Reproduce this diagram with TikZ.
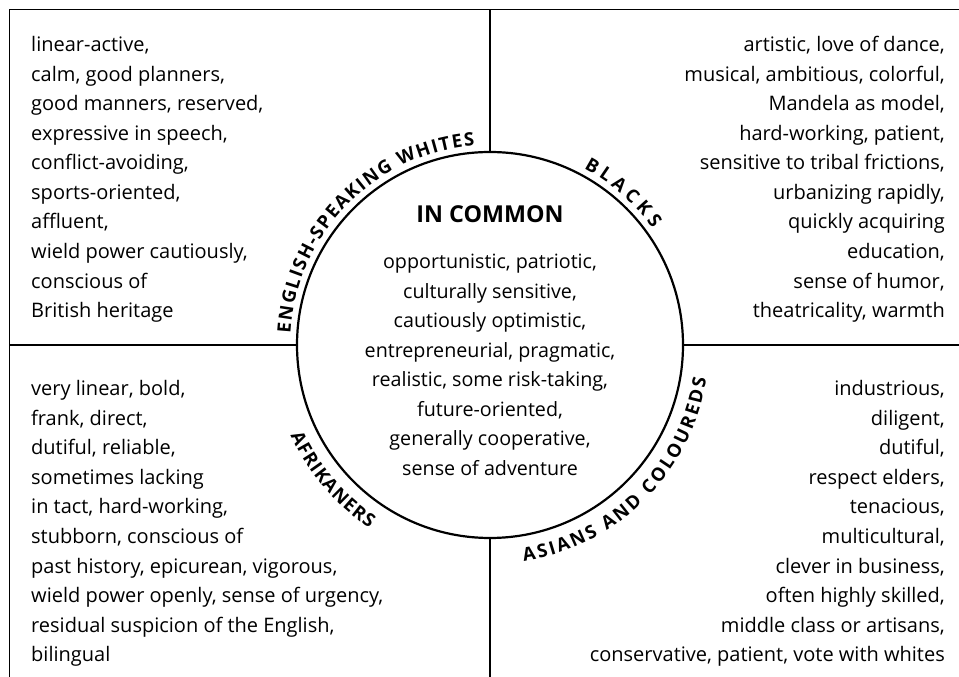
\documentclass[tikz,border=0pt]{standalone}
\usepackage{fontspec}
\setmainfont{Open Sans}
\usetikzlibrary{decorations.text}
\newcommand\lblfont{\bfseries\fontsize{18.5}{18.5}\selectfont}
\tikzset{
  body/.style={font=\fontsize{20}{24}\selectfont, inner sep=0pt},
  cbody/.style={font=\fontsize{19.7}{24}\selectfont, inner sep=0pt, anchor=base},
  divider/.style={line width=1.7pt},
  frame/.style={line width=1pt},
}
\begin{document}
\begin{tikzpicture}[x=1pt,y=1pt]
\useasboundingbox (0,0) rectangle (959,677);
\coordinate (O) at (490,332);
\node[circle, draw, line width=2.2pt, minimum size=386pt, inner sep=0pt] (C) at (O) {};
\coordinate (TL) at (9,667);
\coordinate (BL) at (9,-5);
\coordinate (TR) at (965,667);
\coordinate (VT) at (490,667);
\coordinate (VB) at (490,-5);
\coordinate (HL) at (9,332);
\coordinate (HR) at (965,332);
\draw[frame] (BL) -- (TL) -- (TR);
\draw[divider] (VT) -- (C.north);
\draw[divider] (C.south) -- (VB);
\draw[divider] (HL) -- (C.west);
\draw[divider] (C.east) -- (HR);

% top-left
\foreach \t [count=\i] in {{linear-active,},{calm, good planners,},{good manners, reserved,},{expressive in speech,},{conflict-avoiding,},{sports-oriented,},{affluent,},{wield power cautiously,},{conscious of},{British heritage}}
  \node[body, anchor=base west] (tl\i) at (31,{625.3-29.55*(\i-1)}) {\t};
% top-right
\foreach \t [count=\i] in {{artistic, love of dance,},{musical, ambitious, colorful,},{Mandela as model,},{hard-working, patient,},{sensitive to tribal frictions,},{urbanizing rapidly,},{quickly acquiring},{education,},{sense of humor,},{theatricality, warmth}}
  \node[body, anchor=base east] (tr\i) at (945,{625.3-29.55*(\i-1)}) {\t};
% bottom-left
\foreach \t [count=\i] in {{very linear, bold,},{frank, direct,},{dutiful, reliable,},{sometimes lacking},{in tact, hard-working,},{stubborn, conscious of},{past history, epicurean, vigorous,},{wield power openly, sense of urgency,},{residual suspicion of the English,},{bilingual}}
  \node[body, anchor=base west] (bl\i) at (31,{281.2-29.55*(\i-1)}) {\t};
% bottom-right
\foreach \t [count=\i] in {{industrious,},{diligent,},{dutiful,},{respect elders,},{tenacious,},{multicultural,},{clever in business,},{often highly skilled,},{middle class or artisans,},{conservative, patient, vote with whites}}
  \node[body, anchor=base east] (br\i) at (945,{281.2-29.55*(\i-1)}) {\t};
% centre
\node[inner sep=0pt, anchor=base, font=\bfseries\fontsize{23.3}{27}\selectfont] (title) at (490,454) {IN COMMON};
\foreach \t [count=\i] in {{opportunistic, patriotic,},{culturally sensitive,},{cautiously optimistic,},{entrepreneurial, pragmatic,},{realistic, some risk-taking,},{future-oriented,},{generally cooperative,},{sense of adventure}}
  \node[cbody] (c\i) at (490,{408.5-29.55*(\i-1)}) {\t};

% curved labels
\path[decorate, decoration={text effects along path, text={ENGLISH-SPEAKING WHITES}, text align=center,
  text effects/.cd, text along path, characters={font=\lblfont}, character widths={font=\lblfont, inner xsep=0.8pt}}]
  (290,332) arc[start angle=180, end angle=91, radius=200];
\path[decorate, decoration={text effects along path, text={BLACKS}, text align=center,
  text effects/.cd, text along path, characters={font=\lblfont}, character widths={font=\lblfont, inner xsep=2.2pt}}]
  (490,532) arc[start angle=90, end angle=7.8, radius=200];
\path[decorate, decoration={text effects along path, text={AFRIKANERS}, text align=center,
  text effects/.cd, text along path, characters={font=\lblfont}, character widths={font=\lblfont, inner xsep=0.5pt}}]
  (271,332) arc[start angle=180, end angle=261, radius=219];
\path[decorate, decoration={text effects along path, text={ASIANS AND COLOUREDS}, text align=center,
  text effects/.cd, text along path, characters={font=\lblfont}, character widths={font=\lblfont, inner xsep=1.2pt}}]
  (490,113) arc[start angle=270, end angle=360, radius=219];
\end{tikzpicture}
\end{document}
